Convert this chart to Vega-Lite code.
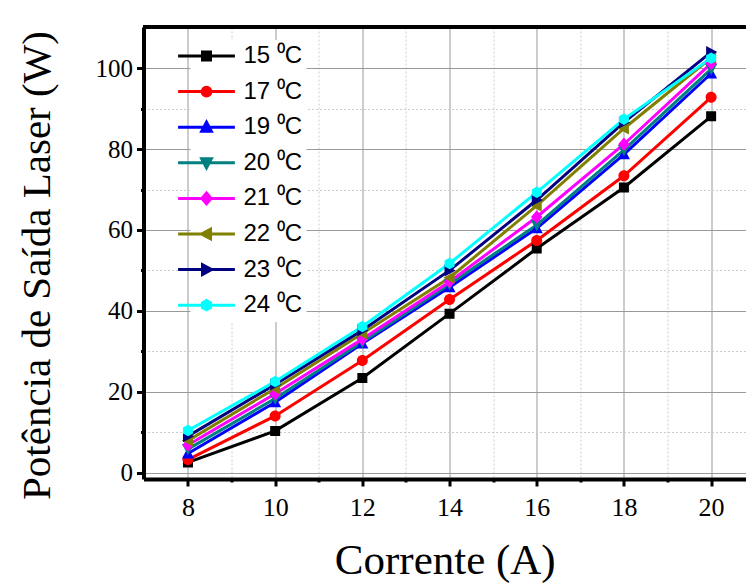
{
  "$schema": "https://vega.github.io/schema/vega-lite/v6.json",
  "autosize": {"type": "none"},
  "padding": {"left": 143.5, "top": 27, "right": 0, "bottom": 104},
  "width": 602.5,
  "height": 452,
  "config": {"view": {"stroke": null}, "font": "Times New Roman"},
  "data": {
    "values": [
      {"I": 8, "P": 2.5, "T": "15 ⁰C"}, {"I": 10, "P": 10.3, "T": "15 ⁰C"}, {"I": 12, "P": 23.4, "T": "15 ⁰C"}, {"I": 14, "P": 39.3, "T": "15 ⁰C"}, {"I": 16, "P": 55.4, "T": "15 ⁰C"}, {"I": 18, "P": 70.5, "T": "15 ⁰C"}, {"I": 20, "P": 88.1, "T": "15 ⁰C"},
      {"I": 8, "P": 3.2, "T": "17 ⁰C"}, {"I": 10, "P": 14.0, "T": "17 ⁰C"}, {"I": 12, "P": 27.7, "T": "17 ⁰C"}, {"I": 14, "P": 42.8, "T": "17 ⁰C"}, {"I": 16, "P": 57.4, "T": "17 ⁰C"}, {"I": 18, "P": 73.4, "T": "17 ⁰C"}, {"I": 20, "P": 92.8, "T": "17 ⁰C"},
      {"I": 8, "P": 4.7, "T": "19 ⁰C"}, {"I": 10, "P": 17.4, "T": "19 ⁰C"}, {"I": 12, "P": 31.9, "T": "19 ⁰C"}, {"I": 14, "P": 45.8, "T": "19 ⁰C"}, {"I": 16, "P": 60.4, "T": "19 ⁰C"}, {"I": 18, "P": 78.7, "T": "19 ⁰C"}, {"I": 20, "P": 98.7, "T": "19 ⁰C"},
      {"I": 8, "P": 5.8, "T": "20 ⁰C"}, {"I": 10, "P": 18.3, "T": "20 ⁰C"}, {"I": 12, "P": 32.3, "T": "20 ⁰C"}, {"I": 14, "P": 46.6, "T": "20 ⁰C"}, {"I": 16, "P": 61.2, "T": "20 ⁰C"}, {"I": 18, "P": 79.8, "T": "20 ⁰C"}, {"I": 20, "P": 99.8, "T": "20 ⁰C"},
      {"I": 8, "P": 6.8, "T": "21 ⁰C"}, {"I": 10, "P": 19.5, "T": "21 ⁰C"}, {"I": 12, "P": 33.0, "T": "21 ⁰C"}, {"I": 14, "P": 47.2, "T": "21 ⁰C"}, {"I": 16, "P": 63.2, "T": "21 ⁰C"}, {"I": 18, "P": 81.2, "T": "21 ⁰C"}, {"I": 20, "P": 101.2, "T": "21 ⁰C"},
      {"I": 8, "P": 7.9, "T": "22 ⁰C"}, {"I": 10, "P": 20.8, "T": "22 ⁰C"}, {"I": 12, "P": 34.4, "T": "22 ⁰C"}, {"I": 14, "P": 48.2, "T": "22 ⁰C"}, {"I": 16, "P": 66.0, "T": "22 ⁰C"}, {"I": 18, "P": 85.1, "T": "22 ⁰C"}, {"I": 20, "P": 102.6, "T": "22 ⁰C"},
      {"I": 8, "P": 9.0, "T": "23 ⁰C"}, {"I": 10, "P": 21.8, "T": "23 ⁰C"}, {"I": 12, "P": 35.2, "T": "23 ⁰C"}, {"I": 14, "P": 50.0, "T": "23 ⁰C"}, {"I": 16, "P": 67.4, "T": "23 ⁰C"}, {"I": 18, "P": 86.6, "T": "23 ⁰C"}, {"I": 20, "P": 104.0, "T": "23 ⁰C"},
      {"I": 8, "P": 10.4, "T": "24 ⁰C"}, {"I": 10, "P": 22.5, "T": "24 ⁰C"}, {"I": 12, "P": 36.1, "T": "24 ⁰C"}, {"I": 14, "P": 51.7, "T": "24 ⁰C"}, {"I": 16, "P": 69.3, "T": "24 ⁰C"}, {"I": 18, "P": 87.4, "T": "24 ⁰C"}, {"I": 20, "P": 102.5, "T": "24 ⁰C"}
    ]
  },
  "encoding": {
    "y": {
      "field": "P",
      "type": "quantitative",
      "scale": {"domain": [-1.6, 110.2], "nice": false, "zero": false},
      "axis": {
        "values": [0, 10, 20, 30, 40, 50, 60, 70, 80, 90, 100],
        "labelExpr": "datum.value % 20 === 0 ? datum.label : ''",
        "labelFont": "Times New Roman",
        "labelFontSize": 25,
        "labelColor": "black",
        "labelPadding": 4,
        "tickColor": "black",
        "tickWidth": 3,
        "tickSize": {"condition": {"test": "datum.value % 20 !== 0", "value": 3}, "value": 7},
        "domainColor": "black",
        "domainWidth": 4,
        "grid": true,
        "gridColor": {"condition": {"test": "datum.value % 20 !== 0", "value": "#cccccc"}, "value": "#999999"},
        "gridDash": {"condition": {"test": "datum.value % 20 !== 0", "value": [2, 2]}, "value": []},
        "gridWidth": 1,
        "title": "Potência de Saída Laser (W)",
        "titleFont": "Times New Roman",
        "titleFontSize": 41,
        "titleFontWeight": "normal",
        "titleColor": "black",
        "titlePadding": 37,
        "titleY": 238
      }
    }
  },
  "layer": [
    {
      "mark": {"type": "line", "strokeWidth": 3},
      "encoding": {
        "x": {
          "field": "I",
          "type": "quantitative",
          "scale": {"domain": [6.98, 20.8], "nice": false, "zero": false},
          "axis": {
            "orient": "bottom",
            "values": [8, 9, 10, 11, 12, 13, 14, 15, 16, 17, 18, 19, 20],
            "labelExpr": "datum.value % 2 === 0 ? datum.label : ''",
            "labelFont": "Times New Roman",
            "labelFontSize": 26,
            "labelColor": "black",
            "labelPadding": 8,
            "tickColor": "black",
            "tickWidth": 3,
            "tickSize": {"condition": {"test": "datum.value % 2 !== 0", "value": 3}, "value": 7},
            "domainColor": "black",
            "domainWidth": 4,
            "grid": true,
            "gridColor": {"condition": {"test": "datum.value % 2 !== 0", "value": "#cccccc"}, "value": "#999999"},
            "gridDash": {"condition": {"test": "datum.value % 2 !== 0", "value": [2, 2]}, "value": []},
            "gridWidth": 1,
            "title": "Corrente (A)",
            "titleFont": "Times New Roman",
            "titleFontSize": 43,
            "titleFontWeight": "normal",
            "titleColor": "black",
            "titlePadding": 19
          }
        },
        "color": {
          "field": "T",
          "type": "nominal",
          "scale": {
            "domain": ["15 ⁰C", "17 ⁰C", "19 ⁰C", "20 ⁰C", "21 ⁰C", "22 ⁰C", "23 ⁰C", "24 ⁰C"],
            "range": ["#000000", "#ff0000", "#0000ff", "#008080", "#ff00ff", "#808000", "#000080", "#00ffff"]
          },
          "legend": {
            "title": null,
            "orient": "none",
            "legendX": 47,
            "legendY": 13,
            "labelFont": "Liberation Sans",
            "labelFontSize": 24,
            "labelColor": "black",
            "symbolSize": 64,
            "labelOffset": 25,
            "rowPadding": 11.6,
            "fillColor": "white",
            "padding": 4,
            "symbolStrokeWidth": 3,
            "encode": {
              "symbols": {
                "update": {
                  "stroke": {"signal": "scale('color', datum.value)"},
                  "strokeWidth": {"value": 3}
                }
              }
            }
          }
        }
      }
    },
    {
      "mark": {"type": "point", "filled": true, "size": 100, "opacity": 1, "strokeWidth": 0},
      "encoding": {
        "x": {"field": "I", "type": "quantitative", "scale": {"domain": [6.98, 20.8], "nice": false, "zero": false}},
        "color": {
          "field": "T",
          "type": "nominal",
          "scale": {
            "domain": ["15 ⁰C", "17 ⁰C", "19 ⁰C", "20 ⁰C", "21 ⁰C", "22 ⁰C", "23 ⁰C", "24 ⁰C"],
            "range": ["#000000", "#ff0000", "#0000ff", "#008080", "#ff00ff", "#808000", "#000080", "#00ffff"]
          }
        },
        "stroke": {
          "field": "T",
          "type": "nominal",
          "scale": {
            "domain": ["15 ⁰C", "17 ⁰C", "19 ⁰C", "20 ⁰C", "21 ⁰C", "22 ⁰C", "23 ⁰C", "24 ⁰C"],
            "range": ["#000000", "#ff0000", "#0000ff", "#008080", "#ff00ff", "#808000", "#000080", "#00ffff"]
          },
          "legend": {
            "title": null,
            "orient": "none",
            "legendX": 47,
            "legendY": 13,
            "labelFont": "Liberation Sans",
            "labelFontSize": 24,
            "labelColor": "black",
            "symbolSize": 64,
            "labelOffset": 25,
            "rowPadding": 11.6,
            "fillColor": "white",
            "padding": 4,
            "symbolStrokeWidth": 3
          }
        },
        "shape": {
          "field": "T",
          "type": "nominal",
          "scale": {
            "domain": ["15 ⁰C", "17 ⁰C", "19 ⁰C", "20 ⁰C", "21 ⁰C", "22 ⁰C", "23 ⁰C", "24 ⁰C"],
            "range": [
              "M-7.1,0L7.1,0M-1,-1L1,-1L1,1L-1,1Z",
              "M-7.1,0L7.1,0M-1.1,0A1.1,1.1,0,1,0,1.1,0A1.1,1.1,0,1,0,-1.1,0Z",
              "M-7.1,0L7.1,0M0,-1.25L1.2,1L-1.2,1Z",
              "M-7.1,0L7.1,0M0,1.25L1.2,-1L-1.2,-1Z",
              "M-7.1,0L7.1,0M0,-1.35L1.15,0L0,1.35L-1.15,0Z",
              "M-7.1,0L7.1,0M-1.25,0L1,-1.2L1,1.2Z",
              "M-7.1,0L7.1,0M1.25,0L-1,-1.2L-1,1.2Z",
              "M-7.1,0L7.1,0M0,-1.15L1,-0.58L1,0.58L0,1.15L-1,0.58L-1,-0.58Z"
            ]
          },
          "legend": {
            "title": null,
            "orient": "none",
            "legendX": 47,
            "legendY": 13,
            "labelFont": "Liberation Sans",
            "labelFontSize": 24,
            "labelColor": "black",
            "symbolSize": 64,
            "labelOffset": 25,
            "rowPadding": 11.6,
            "fillColor": "white",
            "padding": 4,
            "symbolStrokeWidth": 3
          }
        }
      }
    },
    {
      "mark": {"type": "rule", "color": "black", "strokeWidth": 4},
      "encoding": {"y": {"datum": 110.2}}
    }
  ]
}
